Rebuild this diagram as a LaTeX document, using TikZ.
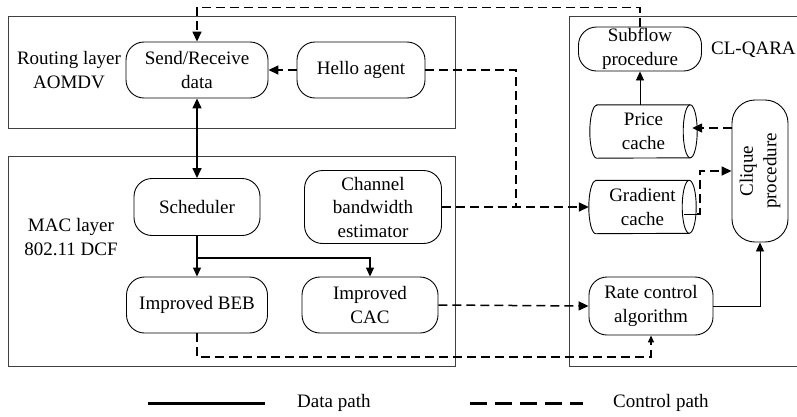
\documentclass[tikz,border=0pt]{standalone}
\usepackage{fontspec}
\setmainfont{Liberation Serif}
\usetikzlibrary{arrows.meta}

% outline of a horizontal cylinder drawn round a named node
\newcommand\cacheoutline[1]{%
  \draw[line width=0.9pt] ([xshift=7pt]#1.north west) -- ([xshift=-7pt]#1.north east)
    arc[start angle=90,end angle=-90,x radius=7pt,y radius=26.5pt]
    -- ([xshift=7pt]#1.south west)
    arc[start angle=270,end angle=90,x radius=7pt,y radius=26.5pt] -- cycle;
  \draw[line width=0.9pt] ([xshift=-7pt]#1.north east)
    arc[start angle=90,end angle=270,x radius=7pt,y radius=26.5pt];}

\begin{document}
\begin{tikzpicture}[x=1pt,y=-1pt,
  font=\fontsize{19}{23.5}\selectfont,
  every node/.style={inner sep=0pt, align=center},
  proc/.style={draw, line width=0.9pt, rounded corners=18pt},
  cache/.style={minimum width=107pt, minimum height=53pt},
  layer/.style={draw=black!75, line width=1pt},
  data/.style={line width=1.5pt, -{Triangle[length=10pt,width=9pt]}},
  datab/.style={line width=1.5pt, {Triangle[length=10pt,width=9pt]}-{Triangle[length=10pt,width=9pt]}},
  branch/.style={line width=1.1pt, -{Triangle[length=9pt,width=8pt]}},
  thinarrow/.style={line width=0.9pt, -{Triangle[length=9pt,width=8pt]}},
  ctrl/.style={line width=1.5pt, dash pattern=on 9pt off 5pt},
  ctrlarrow/.style={ctrl, -{Triangle[length=10pt,width=9pt]}},
  ctrlsmall/.style={ctrl, -{Triangle[length=7pt,width=6pt]}}]

\useasboundingbox (0,0) rectangle (797,416);
\fill[white] (0,0) rectangle (797,416);

% layer frames
\draw[layer] (8,16) rectangle (455,128);
\draw[layer] (8,156) rectangle (455,366);
\draw[layer] (797,16) -- (569,16) -- (569,366) -- (797,366);

% layer captions
\node (rtxt) at (69,70) {Routing layer\\AOMDV};
\node (mtxt) at (71,237) {MAC layer\\802.11 DCF};
\node[anchor=west] (qtxt) at (711,50) {CL-QARA};

% routing layer
\node[proc, minimum width=142pt, minimum height=56pt] (sr) at (197,70) {Send/Receive\\data};
\node[proc, minimum width=128pt, minimum height=56pt] (hello) at (361,70) {Hello agent};

% MAC layer
\node[proc, minimum width=126pt, minimum height=57pt] (sched) at (197,207) {Scheduler};
\node[proc, minimum width=137pt, minimum height=73pt] (cbe) at (373,207) {Channel\\bandwidth\\estimator};
\node[proc, minimum width=141pt, minimum height=56pt] (beb) at (197,305) {Improved BEB};
\node[proc, minimum width=136pt, minimum height=56pt] (cac) at (370,305) {Improved\\CAC};

% CL-QARA
\node[proc, minimum width=123pt, minimum height=44pt] (sub) at (640,49) {Subflow\\procedure};
\node[cache] (price) at (643.5,131.5) {Price\\cache};
\node[cache] (grad) at (642.5,207) {Gradient\\cache};
\cacheoutline{price}
\cacheoutline{grad}
\node[proc, rounded corners=23pt, minimum width=56pt, minimum height=142pt] (clique) at (760,171) {};
\node[rotate=90] (cliquetxt) at (clique.center) {Clique\\procedure};
\node[proc, minimum width=124pt, minimum height=58pt] (rate) at (651,306) {Rate control\\algorithm};

% junction points
\coordinate (hj) at (516,207);
\coordinate (pe) at ([xshift=-5pt]price.east);
\coordinate (gs) at ([xshift=-12pt]grad.east);

% data paths
\draw[datab] (sr.south) -- (sched.north);
\draw[branch] (sched.south) -- (beb.north);
\draw[branch] (sched.south |- 0,258) -| (cac.north);
\draw[thinarrow] (price.north -| sub.south) -- (sub.south);
\draw[thinarrow] (rate.east) -| (clique.south);

% control paths
\draw[ctrlarrow] (sub.north) -- (sub.north |- 0,7.5) -| (sr.north);
\draw[ctrlarrow] (hello.west) -- (sr.east);
\draw[ctrl] (hello.east) -| (hj);
\draw[ctrlarrow] (cbe.east) -- (grad.west);
\draw[ctrlarrow] (clique.west |- 0,128) -- (pe |- 0,128);
\draw[line width=0.9pt] (gs |- 0,214) -- (697,214);
\draw[ctrlarrow] (697,214) -- (700,214) |- (clique.west);
\draw[ctrlarrow] (cac.east) -- (rate.west);
\draw[ctrlsmall] (beb.south) -- (beb.south |- 0,357) -| (rate.south);

% legend
\coordinate (l1a) at (148,403);
\coordinate (l1b) at (265,403);
\coordinate (l2a) at (470,403);
\coordinate (l2b) at (583,403);
\draw[line width=3pt] (l1a) -- (l1b);
\node[anchor=west] (ldata) at (297,403) {Data path};
\draw[line width=3pt, dash pattern=on 17pt off 8pt] (l2a) -- (l2b);
\node[anchor=west] (lctrl) at (613,403) {Control path};
\end{tikzpicture}
\end{document}
